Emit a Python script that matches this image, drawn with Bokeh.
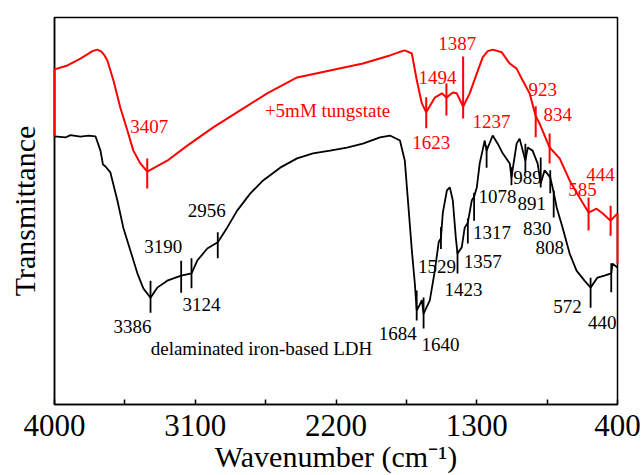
import numpy as np
from bokeh.plotting import figure
from bokeh.models import Range1d, FixedTicker, ColumnDataSource
from bokeh.embed import file_html
from bokeh.resources import INLINE
from bokeh.core.properties import value

# ---------------- data ----------------
# black: delaminated iron-based LDH
ldh_wn = [4000, 3930, 3898, 3834, 3783, 3738, 3706, 3690, 3674, 3643, 3598, 3560, 3515, 3470,
          3432, 3386, 3343, 3279, 3190, 3124, 3087, 3023, 2956, 2896, 2832, 2749, 2666,
          2557, 2449, 2347, 2238, 2130, 2028, 1919, 1855, 1791, 1760, 1740, 1715, 1696,
          1684, 1664, 1651, 1640, 1600, 1568, 1543, 1529, 1517, 1491, 1472, 1453, 1434,
          1423, 1396, 1377, 1357, 1332, 1317, 1300, 1281, 1249, 1237, 1198, 1166, 1134,
          1089, 1078, 1045, 1026, 989, 974, 943, 911, 891, 866, 830, 808, 789, 751, 706,
          662, 611, 572, 528, 483, 440, 432, 400]
ldh_t = [69.3, 69.0, 69.6, 69.2, 69.5, 69.3, 65.6, 62.0, 61.5, 60.0, 52.7, 45.7, 39.8, 33.9,
         30.0, 27.6, 30.2, 32.0, 33.3, 33.9, 37.2, 40.3, 41.9, 45.7, 50.1, 54.5, 57.9,
         61.2, 63.6, 64.9, 65.6, 66.4, 67.4, 69.0, 69.5, 68.2, 63.0, 52.7, 39.8, 31.3,
         24.3, 25.8, 27.0, 23.5, 26.9, 34.6, 42.0, 43.0, 49.5, 55.3, 56.1, 52.7, 43.2,
         39.0, 40.6, 45.7, 47.0, 52.7, 53.7, 56.0, 62.3, 68.2, 65.6, 69.5, 67.4, 64.9,
         62.3, 58.7, 67.4, 68.7, 63.0, 66.4, 65.6, 62.3, 57.1, 60.5, 58.7, 54.8, 50.9, 45.7, 39.0,
         34.6, 32.0, 30.2, 32.8, 33.3, 33.9, 36.4, 35.4]

# red: +5mM tungstate
w_wn = [4000, 4000, 3917, 3834, 3757, 3726, 3700, 3680, 3662, 3623, 3579, 3534, 3496, 3451,
        3407, 3279, 3151, 2985, 2813, 2640, 2449, 2238, 2028, 1855, 1800, 1760, 1715, 1683,
        1651, 1623, 1568, 1523, 1494, 1453, 1428, 1387, 1345, 1300, 1262, 1230, 1198, 1140,
        1089, 1045, 1006, 962, 923, 898, 834, 770, 706, 643, 585, 534, 496, 444, 400, 400]
w_t = [69.3, 86.6, 87.6, 89.4, 91.3, 91.7, 91.2, 90.2, 88.9, 83.7, 76.7, 70.8, 65.6, 62.3,
       60.2, 63.0, 66.9, 71.6, 76.0, 80.4, 84.5, 86.3, 88.1, 90.2, 91.0, 91.5, 90.7, 83.7,
       77.8, 75.5, 79.3, 80.4, 79.3, 80.6, 80.4, 77.0, 80.4, 85.5, 89.7, 91.3, 91.7, 91.0,
       88.1, 86.8, 83.7, 80.4, 74.5, 72.6, 66.4, 63.6, 57.9, 53.5, 49.6, 50.6, 49.4, 47.5,
       49.4, 36.4]

ldh_peaks = [3386, 3190, 3124, 2956, 1684, 1640, 1529, 1423, 1357, 1317, 1237, 1078,
             989, 891, 830, 808, 572, 440]
w_peaks = [3407, 1623, 1494, 1387, 923, 834, 585, 444]

ldh_labels = ["3386", "3190", "3124", "2956", "1684", "1640", "1529", "1423", "1357",
              "1317", "1078", "989", "891", "830", "808", "572", "440"]
w_labels = ["3407", "1623", "1494", "1387", "1237", "923", "834", "585", "444"]

x_ticks = [4000, 3100, 2200, 1300, 400]
x_minor = [3550, 2650, 1750, 850]

# ---------------- layout / style ----------------
W, H = 642, 475
L, R, T, B = 54, 617, 17, 404
XMAX, XMIN, YMIN, YMAX = 4000, 400, 0, 100
wn_per_px = (XMAX - XMIN) / (R - L)
t_per_px = (YMAX - YMIN) / (B - T)
FONT = "Liberation Serif"
RED = "#ff0000"

# tick extents (px up, px down) and label offsets (px right, px down)
ldh_tick_up = [17, 15, 15, 10, 20, 16, 11, 3, 4, 4, 5, 10, 17, 26, 7, 2, 10, 10]
ldh_tick_dn = [15, 17, 15, 16, 10, 15, 11, 20, 21, 24, 17, 8, 12, 4, 16, 25, 20, 19]
w_tick_up = [13, 15, 14, 50, 10, 14, 15, 15]
w_tick_dn = [17, 16, 18, 12, 21, 16, 18, 15]

ldh_lab_dx = [-18, -18, 10, -11, -19, 17, -4, 6, 15, 18, -14, 2, -9, -13, -4, -23, -9]
ldh_lab_dy = [29, -29, 31, -32, 23, 31, 28, 36, 39, 36, 19, 17, 20, 51, 55, 19, 49]
w_lab_dx = [2, 5, -9, -6, 5, 7, 8, -6, -10]
w_lab_dy = [-45, 30, -20, -63, -29, -27, -33, -23, -46]
w_lab_curve = ["w", "w", "w", "w", "ldh", "w", "w", "w", "w"]


def interp(wn, xs, ys):
    xs = np.asarray(xs, float)[::-1]
    ys = np.asarray(ys, float)[::-1]
    return float(np.interp(wn, xs, ys))


def px_to_x(px):
    return XMAX - (px - L) * wn_per_px


def py_to_y(py):
    return YMIN + (B - py) * t_per_px


p = figure(width=W, height=H, output_backend="svg", toolbar_location=None,
           x_range=Range1d(XMAX, XMIN), y_range=Range1d(YMIN, YMAX),
           min_border_left=L, min_border_right=W - R, min_border_top=T,
           min_border_bottom=H - B)
p.background_fill_color = "white"
p.border_fill_color = "white"
p.xgrid.visible = False
p.ygrid.visible = False
p.outline_line_color = "black"
p.outline_line_width = 1.5
p.outline_line_alpha = 1

# curves
p.line(ldh_wn, ldh_t, line_color="black", line_width=1.8)
p.line(w_wn, w_t, line_color=RED, line_width=2, level="overlay")

# peak ticks
def ticks(peaks, xs, ys, up, dn):
    c = [interp(pk, xs, ys) for pk in peaks]
    y0 = [ci + u * t_per_px for ci, u in zip(c, up)]
    y1 = [ci - d * t_per_px for ci, d in zip(c, dn)]
    return dict(x0=list(peaks), x1=list(peaks), y0=y0, y1=y1)

p.segment(source=ColumnDataSource(ticks(w_peaks, w_wn, w_t, w_tick_up, w_tick_dn)),
          x0="x0", y0="y0", x1="x1", y1="y1", line_color=RED, line_width=2)
p.segment(source=ColumnDataSource(ticks(ldh_peaks, ldh_wn, ldh_t, ldh_tick_up, ldh_tick_dn)),
          x0="x0", y0="y0", x1="x1", y1="y1", line_color="black", line_width=1.8)

# peak labels
def label_pos(labels, curves, dxs, dys):
    xs, ys = [], []
    for lab, cv, dx, dy in zip(labels, curves, dxs, dys):
        pk = float(lab)
        if cv == "w":
            c = interp(pk, w_wn, w_t)
        else:
            c = interp(pk, ldh_wn, ldh_t)
        xs.append(pk - dx * wn_per_px)
        ys.append(c - dy * t_per_px)
    return dict(x=xs, y=ys, text=list(labels))

p.text(source=ColumnDataSource(label_pos(w_labels, w_lab_curve, w_lab_dx, w_lab_dy)),
       x="x", y="y", text="text", text_color=RED, text_font=value(FONT),
       text_font_size="19px", text_align="center", text_baseline="middle")
p.text(source=ColumnDataSource(label_pos(ldh_labels, ["ldh"] * len(ldh_labels),
                                         ldh_lab_dx, ldh_lab_dy)),
       x="x", y="y", text="text", text_color="black", text_font=value(FONT),
       text_font_size="19px", text_align="center", text_baseline="middle")

# series names
p.text(x=[px_to_x(327)], y=[py_to_y(110)], text=["+5mM tungstate"], text_color=RED,
       text_font=value(FONT), text_font_size="19px", text_align="center",
       text_baseline="middle")
p.text(x=[px_to_x(261)], y=[py_to_y(348)], text=["delaminated iron-based LDH"],
       text_color="black", text_font=value(FONT), text_font_size="19px",
       text_align="center", text_baseline="middle")

# axes
xa = p.xaxis[0]
xa.ticker = FixedTicker(ticks=x_ticks, minor_ticks=x_minor)
xa.major_tick_in = 5
xa.major_tick_out = 0
xa.minor_tick_in = 5
xa.minor_tick_out = 0
xa.major_tick_line_color = "black"
xa.minor_tick_line_color = "black"
xa.major_tick_line_width = 1.5
xa.minor_tick_line_width = 1.5
xa.axis_line_color = "black"
xa.axis_line_width = 1.5
xa.major_label_text_font = FONT
xa.major_label_text_font_size = "31px"
xa.major_label_text_color = "black"
xa.major_label_standoff = 10
xa.axis_label = "Wavenumber (cm\u207b\u00b9)"
xa.axis_label_text_font = FONT
xa.axis_label_text_font_size = "30px"
xa.axis_label_text_font_style = "normal"
xa.axis_label_text_color = "black"
xa.axis_label_standoff = 1

ya = p.yaxis[0]
ya.ticker = FixedTicker(ticks=[])
ya.major_tick_line_color = None
ya.minor_tick_line_color = None
ya.major_label_text_font_size = "0px"
ya.axis_line_color = "black"
ya.axis_line_width = 1.5
ya.axis_label = "Transmittance"
ya.axis_label_text_font = FONT
ya.axis_label_text_font_size = "30px"
ya.axis_label_text_font_style = "normal"
ya.axis_label_text_color = "black"
ya.axis_label_standoff = 14

open("out.html", "w").write(file_html(p, INLINE))
